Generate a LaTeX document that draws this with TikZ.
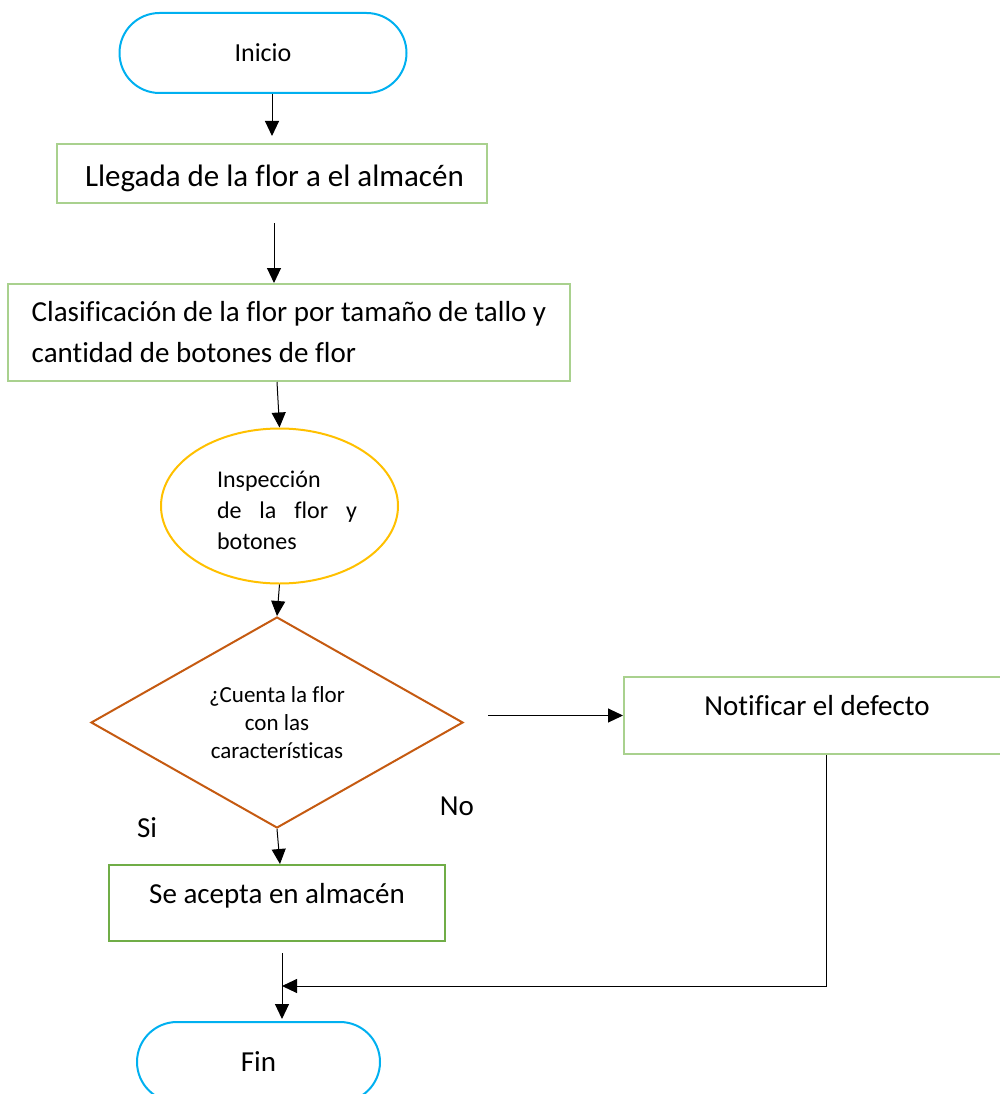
\documentclass[tikz,border=0pt]{standalone}
\usepackage{fontspec}
\setmainfont[Ligatures={NoCommon}]{Carlito}
\usetikzlibrary{shapes.geometric,arrows.meta}
\definecolor{termblue}{HTML}{00B0F0}
\definecolor{lightgreen}{HTML}{A9D18E}
\definecolor{darkgreen}{HTML}{70AD47}
\definecolor{inspyellow}{HTML}{FFC000}
\definecolor{decbrown}{HTML}{C55A11}
\begin{document}
\begin{tikzpicture}[x=1pt,y=-1pt,
  big/.style={font=\fontsize{29}{41}\selectfont},
  term/.style={draw=termblue, line width=2pt, rounded corners=40pt, minimum height=80pt, inner sep=0pt},
  procbox/.style={draw=lightgreen, line width=2pt, inner sep=0pt, big},
  arr/.style={-{Triangle[length=15pt,width=14pt]}, line width=1pt, black},
  plain/.style={line width=1pt, black}]
\useasboundingbox (0,0) rectangle (999,1094);

\node[term, minimum width=287pt, font=\fontsize{26}{30}\selectfont] (inicio) at (263,53) {Inicio};
\node[procbox, minimum width=430pt, minimum height=59pt, font=\fontsize{31}{40}\selectfont, text height=33pt, text depth=7pt] (llegada) at (272,173.5) {\hspace*{5pt}Llegada de la flor a el almacén};
\node[procbox, minimum width=562pt, minimum height=97pt, align=left] (clasif) at (289,332.5)
  {Clasificación de la flor por tamaño de tallo y\\cantidad de botones de flor};
\node[ellipse, draw=inspyellow, line width=2pt, minimum width=237pt, minimum height=155pt, inner sep=0pt] (insp) at (279.5,506) {};
\node[align=left, font=\fontsize{24}{31}\selectfont, inner sep=0pt] (insptext) at (287,510)
  {Inspección\\\makebox[140pt][s]{de la flor y}\\botones};
\node[diamond, draw=decbrown, line width=2pt, minimum width=372pt, minimum height=211pt, aspect=1.76, inner sep=0pt,
  align=center, font=\fontsize{23}{28}\selectfont] (dec) at (277,722.5)
  {¿Cuenta la flor\\con las\\características};
\node[procbox, minimum width=386pt, minimum height=77pt, text depth=20pt] (notif) at (817,715.5) {Notificar el defecto};
\node[procbox, draw=darkgreen, minimum width=336pt, minimum height=76pt, text depth=19pt] (acc) at (277,903) {Se acepta en almacén};
\node[term, minimum width=243pt, big] (fin) at (258.5,1062) {Fin};

\node[big, inner sep=0pt] (no) at (457,806) {No};
\node[big, inner sep=0pt] (si) at (147,828) {Si};

\coordinate (join) at (282,986);

\draw[arr, shorten >=8pt] (inicio.south -| llegada.north) -- ++(0,50);
\draw[arr, shorten <=19pt] ([xshift=2pt]llegada.south) -- (clasif.north -| 274,0);
\draw[arr] (clasif.south -| 277,0) -- (insp.north);
\draw[arr] (insp.south) -- (dec.north);
\draw[arr] (dec.south) -- (acc.north -| 280,0);
\draw[arr, shorten <=24pt] (dec.east |- notif.west) -- (notif.west);
\draw[arr] ([xshift=9pt]notif.south) |- (join);
\draw[arr, shorten <=11pt, shorten >=2pt] (acc.south -| join) -- (fin.north -| join);
\end{tikzpicture}
\end{document}
